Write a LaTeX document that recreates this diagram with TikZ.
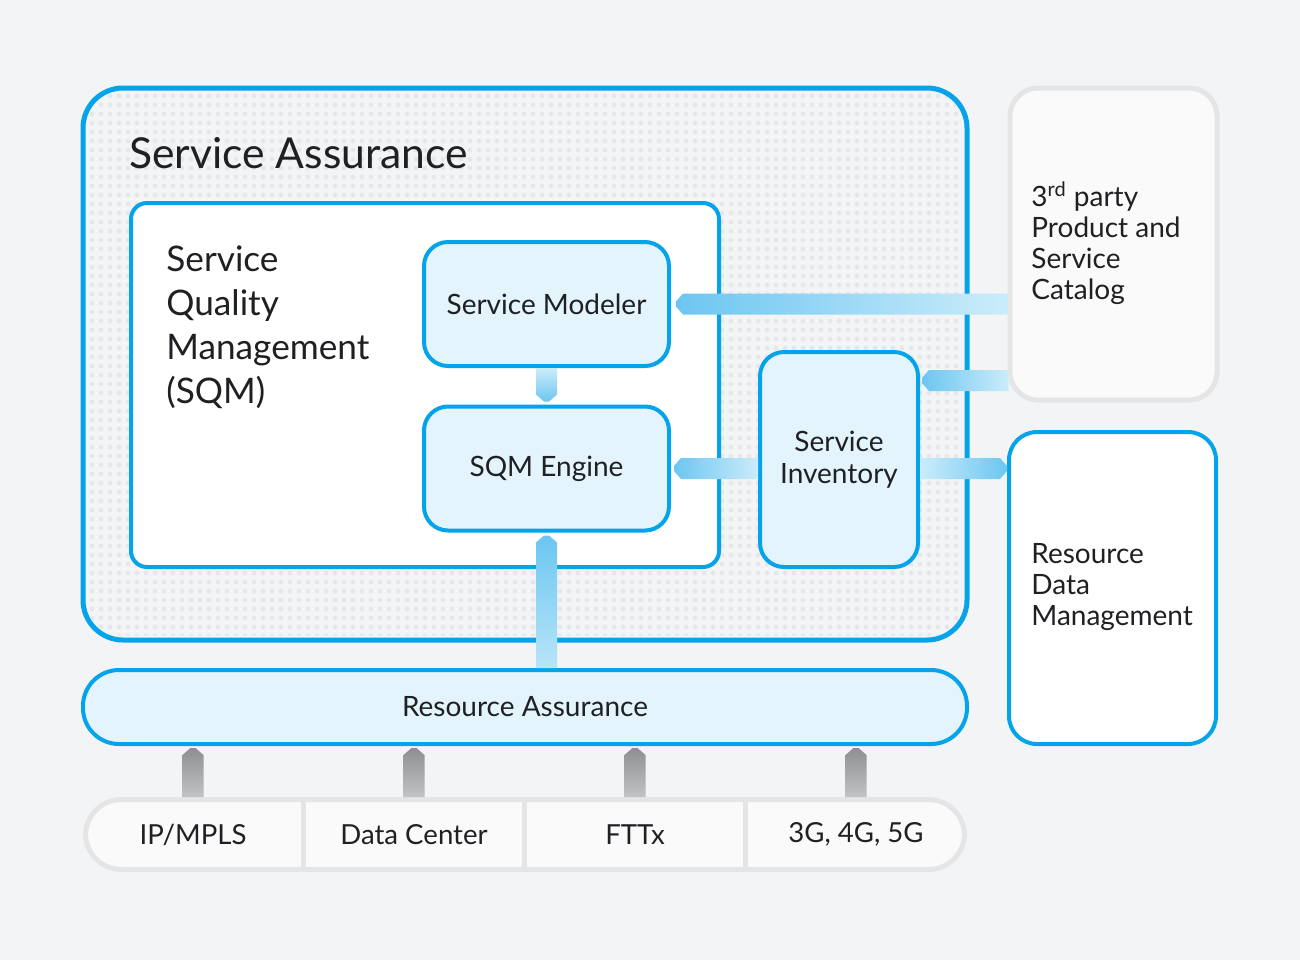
\documentclass[tikz,border=0pt]{standalone}
\usepackage{fontspec}
\setmainfont{Lato}
\usetikzlibrary{calc}

\definecolor{pagebg}{HTML}{F3F4F6}
\definecolor{saBlue}{HTML}{05A4EA}
\definecolor{boxFill}{HTML}{E4F4FC}
\definecolor{dotGray}{HTML}{E6E7EA}
\definecolor{edgeGray}{HTML}{E5E5E6}
\definecolor{catFill}{HTML}{FAFAFA}
\definecolor{bandDark}{HTML}{6CC6F1}
\definecolor{bandLight}{HTML}{CBECFA}
\definecolor{stemDark}{HTML}{8E8F90}
\definecolor{stemLight}{HTML}{C2C3C4}
\definecolor{ink}{HTML}{1F2023}

% band arrow: #1 tail, #2 tip, #3 shading
\newcommand{\flowarrow}[3]{%
  \coordinate (fa-q) at ($(#2)!3.5pt!(#1)$);
  \shade[#3] ($(#2)!1.25pt!90:(#1)$) -- ($(fa-q)!5.25pt!90:(#1)$)
    -- ($(#1)!5.25pt!-90:(#2)$) -- ($(#1)!5.25pt!90:(#2)$)
    -- ($(fa-q)!5.25pt!-90:(#1)$) -- ($(#2)!1.25pt!-90:(#1)$) -- cycle;
}

\tikzset{
  bluebox/.style={draw=saBlue, line width=2pt, fill=boxFill, rounded corners=12pt,
    align=center, text=ink, font=\fontsize{14}{16}\selectfont},
  sidebox/.style={line width=2.5pt, rounded corners=14pt, minimum width=103.5pt, minimum height=156pt},
  sidetext/.style={anchor=west, inner sep=0pt, align=left, text=ink, font=\fontsize{14}{15.5}\selectfont},
  cell/.style={minimum width=110.5pt, minimum height=35pt, inner sep=0pt, text=ink, font=\fontsize{13.8}{16}\selectfont},
  bandleft/.style={left color=bandDark, right color=bandLight},
  bandright/.style={left color=bandLight, right color=bandDark},
  banddown/.style={top color=bandLight, bottom color=bandDark},
  bandup/.style={top color=bandDark, bottom color=bandLight!80!bandDark},
  stemshade/.style={top color=stemDark, bottom color=stemLight},
}

\begin{document}
\begin{tikzpicture}[x=0.5pt,y=-0.5pt]
\useasboundingbox (0,0) rectangle (1300,960);
\fill[pagebg] (0,0) rectangle (1300,960);

% service assurance frame
\node[draw=saBlue, line width=2.5pt, fill=pagebg, rounded corners=20pt,
  minimum width=442pt, minimum height=276pt] (sa) at (525,364) {};
\begin{scope}
  \clip[rounded corners=16pt] ($(sa.south west)+(7,-7)$) rectangle ($(sa.north east)+(-7,7)$);
  \foreach \x in {92,101,...,965}
    \fill[dotGray] foreach \y in {96,105,...,640} { (\x,\y) circle (1.2pt) };
\end{scope}
\node[anchor=west, inner sep=0pt, text=ink, font=\fontsize{21.3}{24}\selectfont] (satitle) at (129,153) {Service Assurance};

% SQM
\node[draw=saBlue, line width=2pt, fill=white, rounded corners=8pt,
  minimum width=294pt, minimum height=182pt] (sqm) at (425,385) {};
\node[anchor=west, inner sep=0pt, align=left, text=ink, font=\fontsize{17.6}{22}\selectfont] (sqmtext) at (166,327)
  {Service\\Quality\\Management\\(SQM)};
\node[bluebox, minimum width=122.5pt, minimum height=62pt] (sm) at (546.5,304) {Service Modeler};
\node[bluebox, minimum width=122.5pt, minimum height=62pt] (eng) at (546.5,468.5) {SQM Engine};
\node[bluebox, minimum width=79pt, minimum height=107.5pt] (si) at (839,459.5) {Service\\Inventory};

% resource assurance and networks
\node[bluebox, rounded corners=18pt, minimum width=442pt, minimum height=37pt] (ra) at (525,707) {Resource Assurance};
\node[draw=edgeGray, line width=2.5pt, fill=catFill, rounded corners=18pt,
  minimum width=439.5pt, minimum height=35pt] (nets) at (525,834.5) {};
\node[cell] (c1) at (193,834.5) {IP/MPLS};
\node[cell] (c2) at (414,834.5) {Data Center};
\node[cell] (c3) at (635,834.5) {FTTx};
\node[cell] (c4) at (856,834.5) {3G, 4G, 5G};
\foreach \i in {1,2,3}
  \draw[edgeGray, line width=2.5pt] (c\i.east |- nets.north) -- (c\i.east |- nets.south);

% right side
\node[sidebox, draw=edgeGray, fill=catFill] (cat) at (1113.5,244) {};
\node[sidetext] (cattext) at (1031,243) {3\textsuperscript{\fontsize{10}{10}\selectfont rd} party\\Product and\\Service\\Catalog};
\node[sidebox, draw=saBlue, line width=2pt, fill=white] (rdm) at (1112.5,588) {};
\node[sidetext] (rdmtext) at (1031,587) {Resource\\Data\\Management};

% connectors
\coordinate (a1t) at (sm.east -| cat.west);
\coordinate (a1h) at ($(sm.east)+(5,0)$);
\flowarrow{a1t}{a1h}{bandleft}
\coordinate (a2t) at ($(cat.south west)+(1,-22)$);
\coordinate (a2x) at (si.east |- a2t);
\coordinate (a2h) at ($(a2x)+(2,0)$);
\flowarrow{a2t}{a2h}{bandleft}
\coordinate (a3t) at (si.west |- eng.east);
\coordinate (a3h) at ($(eng.east)+(3,0)$);
\flowarrow{a3t}{a3h}{bandleft}
\coordinate (a4t) at (si.east |- eng.east);
\coordinate (a4h) at (rdm.west |- eng.east);
\flowarrow{a4t}{a4h}{bandright}
\coordinate (a5h) at ($(eng.north)+(0,-3)$);
\flowarrow{sm.south}{a5h}{banddown}
\coordinate (a6t) at (eng.south |- ra.north);
\coordinate (a6h) at ($(eng.south)+(0,3)$);
\flowarrow{a6t}{a6h}{bandup}
\foreach \i in {1,...,4} {
  \coordinate (g\i-t) at (c\i |- nets.north);
  \coordinate (g\i-x) at (c\i |- ra.south);
  \coordinate (g\i-h) at ($(g\i-x)+(0,2)$);
  \flowarrow{g\i-t}{g\i-h}{stemshade}
}
\end{tikzpicture}
\end{document}
